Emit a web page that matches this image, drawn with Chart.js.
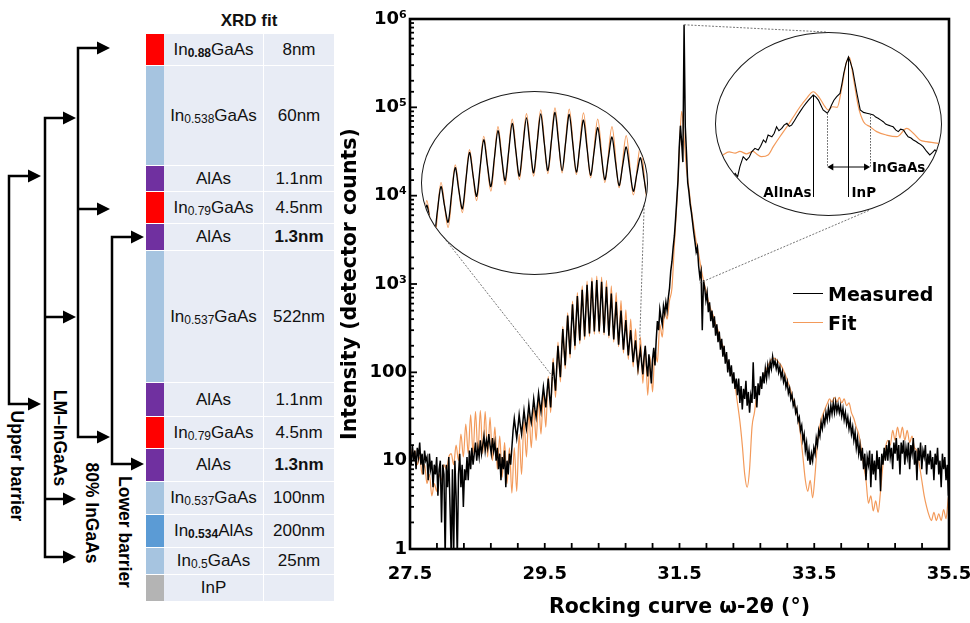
<!DOCTYPE html>
<html>
<head>
<meta charset="utf-8">
<script src="https://cdn.jsdelivr.net/npm/chart.js@4.4.1/dist/chart.umd.min.js"></script>
<style>
  body { margin: 0; background: #fff; }
  #page { position: relative; width: 970px; height: 623px; overflow: hidden; font-family: "Liberation Sans", Arial, sans-serif; color: #111; }
  #brackets { position: absolute; left: 0; top: 0; }
  #xrdTitle { position: absolute; left: 164px; width: 170px; top: 11px; text-align: center; font-weight: bold; font-size: 17px; }
  #stack { position: absolute; left: 146px; top: 34px; width: 188px; }
  .layer { position: absolute; left: 0; width: 188px; display: flex; box-sizing: border-box; border-bottom: 1px solid #fff; }
  .layer div { display: flex; align-items: center; justify-content: center; font-size: 17px; }
  .sw { width: 18px; }
  .mat { width: 100px; background: #e8ecf5; border-right: 1px solid #fff; box-sizing: border-box; }
  .thk { width: 70px; background: #e8ecf5; }
  .layer sub { font-size: 12px; vertical-align: baseline; position: relative; top: 3px; }
  #mainChart { position: absolute; left: 330px; top: 0; }
  .inset { position: absolute; width: 227px; height: 184px; box-sizing: border-box; border: 1.5px solid #1a1a1a; border-radius: 50%; overflow: hidden; background: #fff; }
  .inset canvas { position: absolute; left: -1.5px; top: -1.5px; }
  #fringeInset { left: 421px; top: 91px; }
  #peakInset { left: 715px; top: 32px; }
  #legend { position: absolute; left: 793px; top: 279px; font-family: "DejaVu Sans", sans-serif; font-weight: bold; font-size: 19px; color: #000; }
  .key { display: flex; align-items: center; height: 29px; }
  .key i { display: inline-block; width: 30px; height: 1.5px; margin-right: 5px; }
</style>
</head>
<body>
<div id="page">
  <svg id="brackets" width="150" height="623" viewBox="0 0 150 623">
    <g fill="none" stroke="#000" stroke-width="2.5">
      <path d="M29 176H9V404H29"/>
      <path d="M64 118H45V557H64M45 317H64M45 499H64"/>
      <path d="M98 48H78V437H98M78 209H98"/>
      <path d="M132 237H112V464H132"/>
    </g>
    <g id="heads" fill="#000"></g>
    <g font-family="Liberation Sans, Arial, sans-serif" font-weight="bold" font-size="17.5" text-anchor="middle" dominant-baseline="central" fill="#000">
      <text transform="translate(16.5,466) rotate(90)">Upper barrier</text>
      <text transform="translate(60,438) rotate(90)">LM–InGaAs</text>
      <text transform="translate(91.5,513) rotate(90)">80% InGaAs</text>
      <text transform="translate(125,532) rotate(90)">Lower barrier</text>
    </g>
  </svg>
  <div id="xrdTitle">XRD fit</div>
  <div id="stack"></div>
  <canvas id="mainChart" width="640" height="623"></canvas>
  <div class="inset" id="fringeInset"><canvas id="fringeChart" width="227" height="184"></canvas></div>
  <div class="inset" id="peakInset"><canvas id="peakChart" width="227" height="184"></canvas></div>
  <div id="legend"></div>
</div>
<script>
// layer stack (XRD fit)
var layerNames = ['In<sub><b>0.88</b></sub>GaAs', 'In<sub>0.538</sub>GaAs', 'AlAs', 'In<sub>0.79</sub>GaAs', 'AlAs',
  'In<sub>0.537</sub>GaAs', 'AlAs', 'In<sub>0.79</sub>GaAs', 'AlAs', 'In<sub>0.537</sub>GaAs',
  'In<sub><b>0.534</b></sub>AlAs', 'In<sub>0.5</sub>GaAs', 'InP'];
var layerThickness = ['8nm', '60nm', '1.1nm', '4.5nm', '<b>1.3nm</b>', '522nm', '1.1nm', '4.5nm', '<b>1.3nm</b>',
  '100nm', '200nm', '25nm', ''];

// main scan, counts on a fixed 2theta grid
var scanStart = 27.5;
var measuredStep = 0.018;
var measuredCounts = [
  12,9,15,10,13,8,14,11,16,9,12,7,13,10,11,6,12,8,10,5,9,7,11,4,8,10,2,9,7,
  0.8,9,5,11,3,0.8,8,0.8,10,4,0.8,7,12,5,9,3,8,6,
  11,6,13,8,14,9,12,16,10,14,11,17,12,15,19,13,17,14,20,15,12,18,13,16,10,14,8,12,6,11,8,13,5,10,7,12,9,14,
  22,30,23,18,24,33,25,20,27,37,28,23,31,43,32,27,36,50,38,31,42,58,44,36,50,68,52,
  40,60,85,55,40,75,130,88,62,115,200,128,88,170,310,185,120,235,440,260,160,315,590,335,
  200,390,730,400,230,450,860,460,255,510,980,505,275,550,1070,545,290,575,1110,560,
  290,560,1060,540,280,515,930,485,260,455,780,420,235,390,630,350,205,325,500,295,
  180,270,390,240,155,220,300,195,130,175,230,155,110,145,180,128,95,
  150,200,120,90,160,110,75,140,190,120,230,380,300,520,420,350,560,460,620,500,
  700,900,1400,1800,2600,3500,5500,9000,15000,35000,62000,40000,24000,
  860000,60000,30000,14000,11000,8000,6500,5000,3800,3000,2300,2600,1600,1200,1400,300,1100,900,650,800,
  480,620,380,500,320,430,260,350,220,290,180,240,150,200,125,170,100,140,90,120,75,100,65,85,55,
  85,45,70,38,65,50,80,42,60,35,55,45,130,50,70,40,75,55,90,65,100,75,110,85,120,95,130,110,150,120,
  135,110,128,100,115,88,102,78,90,68,78,58,66,50,56,42,47,35,39,28,31,22,25,17,20,13,16,10,13,9,12,10,14,12,
  18,15,22,19,27,23,31,26,35,29,39,31,42,34,45,35,46,36,43,35,42,32,39,29,35,26,31,23,28,20,24,17,21,14,18,12,15,10,
  14,8,12,6,11,9,13,5,12,7,10,6,13,8,11,4.5,12,9,14,10,
  15,10,17,11,14,8,16,12,18,10,15,7,16,12,17,9,14,11,16,8,15,12,18,9,13,6,14,10,16,8,13,11,15,7,12,9,
  13,8,11,6,12,9,14,7,10,5,12,8,11,6,9,4,8
];
var fitStep = 0.036;
var fitCounts = [
  15,11,13,9,11,7,9,5.5,7,4,5.5,4.5,7,6,9,8,11,
  12,9,15,10,20,11,26,12,33,12,36,12,37,12,36,11,31,10,24,8,19,6.5,16,5.5,14,4.3,14,4.5,20,7,28,11,34,14,40,17,48,20,58,24,
  90,35,145,52,220,78,330,110,470,145,640,180,800,210,950,235,1080,255,1180,270,1230,275,1200,265,1100,245,950,220,800,195,650,165,510,140,400,115,310,95,250,75,200,55,
  150,60,180,130,350,250,500,400,650,900,2800,8000,30000,90000,45000,20000,12000,7000,4500,3000,2200,
  1500,1100,850,650,520,440,350,300,230,200,150,130,105,90,70,45,28,15,7,5,8,24,35,55,65,80,95,110,125,140,
  145,140,130,120,105,90,75,62,48,40,30,20,11,6,4.5,6,3.8,7,16,25,32,
  38,44,50,46,52,46,52,45,50,42,45,35,30,24,20,14,9,6,3.3,4,2.7,3.5,2.6,4.5,9,14,17,15,22,17,
  24,18,24,17,22,16,19,14,13,9,6,4,3,2.4,2.1,2.6,2.1,2.5,2.1,2.8,2.2,3.9,4.5
];

// fine scan around the substrate peak (right inset)
var peakScanX = [31.300,31.310,31.320,31.328,31.333,31.338,31.345,31.352,31.358,31.363,31.370,31.377,31.382,31.388,31.393,
  31.398,31.406,31.411,31.416,31.421,31.427,31.432,31.438,31.443,31.448,31.454,31.459,31.466,31.473,31.478,
  31.484,31.494,31.500,31.505,31.510,31.515,31.524,31.529,31.533,31.538,31.544,31.551,31.555,31.559,31.564,
  31.569,31.573,31.578,31.583,31.587,31.591,31.594,31.601,31.608,31.615,31.622,31.627,31.632,31.638,31.643,
  31.648,31.654,31.659,31.664,31.670,31.675,31.680,31.686,31.691,31.696,31.702,31.707,31.712,31.718,31.723,
  31.728,31.735,31.742,31.748,31.753,31.760,31.770];
var peakScanCounts = [180,150,200,258,200,410,820,640,800,1150,1470,1310,1700,2640,2200,
  3730,3300,4200,6600,5000,5900,7400,8400,6800,7400,10000,13300,19000,26700,33000,
  42600,60400,52000,42600,30000,21300,17000,22000,30200,42000,53700,67600,130000,275000,560000,
  870000,600000,347000,140000,67600,35000,21300,18000,17000,16000,15100,13000,12000,10500,9400,
  8000,7400,7000,6600,5200,4700,5600,5300,4100,3300,3000,2640,2400,2100,1900,
  1650,1200,930,1100,1320,1000,700];
var peakFitX = [31.300,31.315,31.328,31.338,31.352,31.366,31.375,31.384,31.398,31.409,31.423,31.438,31.452,31.466,31.480,
  31.494,31.508,31.519,31.526,31.535,31.545,31.555,31.564,31.571,31.579,31.590,31.601,31.615,31.629,31.650,
  31.672,31.693,31.707,31.721,31.735,31.757,31.775];
var peakFitCounts = [900,1150,1050,1180,1000,1180,950,820,920,1650,3300,6600,13300,26700,48000,
  76000,48000,26700,21300,26700,25700,107000,550000,840000,218000,26700,9400,6600,4700,3700,
  3300,5900,4200,2640,2350,2100,1800];
var peakMarks = [{ name: 'AlInAs', x: 31.494, align: 'right' }, { name: 'InP', x: 31.569, align: 'left' }];
var ingaasSpan = [31.524, 31.615];

// axes
var xTickValues = [27.5,27.9,28.3,28.7,29.1,29.5,29.9,30.3,30.7,31.1,31.5,31.9,32.3,32.7,33.1,33.5,33.9,34.3,34.7,35.1,35.5];
var xTickLabels = [27.5, 29.5, 31.5, 33.5, 35.5];
var yTickText = { 1: '1', 10: '10', 100: '100', 1000: '10³', 10000: '10⁴', 100000: '10⁵', 1000000: '10⁶' };

// ---------- layout / style ----------
var layerColours = ['#ff0000','#a6c4e0','#7030a0','#ff0000','#7030a0','#a6c4e0','#7030a0','#ff0000','#7030a0','#a6c4e0','#5b9bd5','#a6c4e0','#b4b4b4'];
var rowPx = [32,100,26,32,27,132,34,32,33,33,33,27,27];
var fitColour = '#f39a5a';
var mainCanvasLeft = 330;
var chartFont = 'DejaVu Sans';

// zoom windows: point on the curve -> point on the ellipse (page px)
var zoomLinks = [
  { x: 29.62, y: 89, toX: 438, toY: 230 },
  { x: 30.91, y: 233, toX: 645, toY: 180 },
  { x: 31.568, y: 860000, toX: 826, toY: 32 },
  { x: 31.80, y: 1030, toX: 870, toY: 210 }
];

// bracket arrow heads [y, tip x]
var heads = [[176,41],[404,41],[118,76],[317,76],[499,76],[557,76],[48,110],[209,110],[437,110],[237,144],[464,144]];
var headSvg = '';
heads.forEach(function (h) {
  headSvg += '<polygon points="' + (h[1] - 13) + ',' + (h[0] - 6.5) + ' ' + h[1] + ',' + h[0] + ' ' + (h[1] - 13) + ',' + (h[0] + 6.5) + '"/>';
});
document.getElementById('heads').innerHTML = headSvg;

// layer table
var stack = document.getElementById('stack');
var rowTop = 0;
layerNames.forEach(function (name, k) {
  var row = document.createElement('div');
  row.className = 'layer';
  row.style.top = rowTop + 'px';
  row.style.height = rowPx[k] + 'px';
  row.innerHTML = '<div class="sw" style="background:' + layerColours[k] + '"></div>' +
    '<div class="mat">' + name + '</div><div class="thk">' + layerThickness[k] + '</div>';
  stack.appendChild(row);
  rowTop += rowPx[k];
});

// legend
var legendHtml = '';
[['Measured', '#000'], ['Fit', fitColour]].forEach(function (k) {
  legendHtml += '<div class="key"><i style="background:' + k[1] + '"></i>' + k[0] + '</div>';
});
document.getElementById('legend').innerHTML = legendHtml;

function gridSeries(start, step, counts) {
  return counts.map(function (c, i) { return { x: +(start + step * i).toFixed(4), y: c }; });
}
function pairSeries(xs, counts) {
  return xs.map(function (x, i) { return { x: x, y: counts[i] }; });
}
function countAt(xs, counts, x) {
  var k = 0;
  for (var i = 1; i < xs.length; i++) {
    if (Math.abs(xs[i] - x) < Math.abs(xs[k] - x)) k = i;
  }
  return counts[k];
}
function scanDatasets(measured, fit, wM, wF, tM) {
  return [
    { label: 'Measured', data: measured, borderColor: '#000', borderWidth: wM, pointRadius: 0, tension: tM || 0 },
    { label: 'Fit', data: fit, borderColor: fitColour, borderWidth: wF, pointRadius: 0, cubicInterpolationMode: 'monotone' }
  ];
}

Chart.defaults.font.family = chartFont;
Chart.defaults.color = '#000';

var measuredPts = gridSeries(scanStart, measuredStep, measuredCounts);
var fitPts = gridSeries(scanStart, fitStep, fitCounts);

var axisFramePlugin = {
  id: 'axisFrame',
  afterDatasetsDraw: function (chart) {
    var ctx = chart.ctx, xs = chart.scales.x, ys = chart.scales.y;
    ctx.save();
    ctx.strokeStyle = '#666';
    ctx.lineWidth = 0.9;
    ctx.setLineDash([2, 1.5]);
    zoomLinks.forEach(function (l) {
      ctx.beginPath();
      ctx.moveTo(xs.getPixelForValue(l.x), ys.getPixelForValue(l.y));
      ctx.lineTo(l.toX - mainCanvasLeft, l.toY);
      ctx.stroke();
    });
    ctx.restore();
  },
  afterDraw: function (chart) {
    var ctx = chart.ctx, a = chart.chartArea, xs = chart.scales.x, ys = chart.scales.y;
    ctx.save();
    ctx.strokeStyle = '#000';
    ctx.lineWidth = 1.8;
    xs.ticks.forEach(function (t) {
      var px = xs.getPixelForValue(t.value);
      ctx.beginPath(); ctx.moveTo(px, a.bottom); ctx.lineTo(px, a.bottom - 6); ctx.stroke();
    });
    ys.ticks.forEach(function (t) {
      var py = ys.getPixelForValue(t.value);
      var len = yTickText[Math.round(t.value)] ? 7 : 4;
      ctx.beginPath(); ctx.moveTo(a.left, py); ctx.lineTo(a.left + len, py); ctx.stroke();
    });
    ctx.lineWidth = 2.6;
    ctx.strokeRect(a.left, a.top, a.right - a.left, a.bottom - a.top);
    ctx.restore();
  }
};

new Chart(document.getElementById('mainChart'), {
  type: 'line',
  data: { datasets: scanDatasets(measuredPts, fitPts, 1.5, 1.2) },
  options: {
    responsive: false,
    animation: false,
    devicePixelRatio: 1,
    events: [],
    layout: { padding: { top: 19, right: 21, left: 0, bottom: 0 } },
    plugins: { legend: { display: false }, tooltip: { enabled: false } },
    scales: {
      x: {
        type: 'linear', min: 27.5, max: 35.5,
        grid: { display: false, drawTicks: false },
        border: { display: false },
        afterBuildTicks: function (s) { s.ticks = xTickValues.map(function (v) { return { value: v }; }); },
        afterFit: function (s) { s.height = 74; s.paddingLeft = 0; s.paddingRight = 0; },
        ticks: {
          autoSkip: false, maxRotation: 0, padding: 15,
          font: { size: 18, weight: 'bold' },
          callback: function (v) { return xTickLabels.indexOf(v) >= 0 ? v.toFixed(1) : ''; }
        },
        title: { display: true, text: 'Rocking curve ω-2θ (°)', font: { size: 20.5, weight: 'bold' }, padding: { top: 0, bottom: 3 } }
      },
      y: {
        type: 'logarithmic', min: 1, max: 1000000,
        grid: { display: false, drawTicks: false },
        border: { display: false },
        afterFit: function (s) { s.width = 80; s.paddingTop = 0; s.paddingBottom = 0; },
        ticks: {
          autoSkip: false, padding: 3,
          font: { size: 18, weight: 'bold' },
          callback: function (v) { return yTickText[Math.round(v)] || ''; }
        },
        title: { display: true, text: 'Intensity (detector counts)', font: { size: 20.5, weight: 'bold' }, padding: { top: 8, bottom: 0 } }
      }
    }
  },
  plugins: [axisFramePlugin]
});

function insetChart(canvasId, datasets, xMin, xMax, yMin, yMax, extra) {
  return new Chart(document.getElementById(canvasId), {
    type: 'line',
    data: { datasets: datasets },
    options: {
      responsive: false, animation: false, devicePixelRatio: 1, events: [],
      layout: { padding: 0 },
      plugins: { legend: { display: false }, tooltip: { enabled: false } },
      scales: {
        x: { type: 'linear', display: false, min: xMin, max: xMax },
        y: { type: 'logarithmic', display: false, min: yMin, max: yMax }
      }
    },
    plugins: extra || []
  });
}

// left inset: fringes of the 80% InGaAs layer
insetChart('fringeChart', scanDatasets(measuredPts, fitPts, 1.3, 1.2, 0.3), 29.595, 30.742, 26, 1820);

// right inset: substrate peak with labels
var peakLabelPlugin = {
  id: 'peakLabels',
  afterDatasetsDraw: function (chart) {
    var ctx = chart.ctx, xs = chart.scales.x, ys = chart.scales.y;
    var yFloor = 165, yArrow = 135;
    ctx.save();
    ctx.font = 'bold 13.5px "DejaVu Sans"';
    ctx.fillStyle = '#000';
    ctx.strokeStyle = '#000';
    ctx.lineWidth = 1;
    peakMarks.forEach(function (m) {
      var px = Math.round(xs.getPixelForValue(m.x)) + 0.5;
      ctx.beginPath();
      ctx.moveTo(px, ys.getPixelForValue(countAt(peakScanX, peakScanCounts, m.x)));
      ctx.lineTo(px, yFloor);
      ctx.stroke();
      ctx.textAlign = m.align;
      ctx.textBaseline = 'alphabetic';
      ctx.fillText(m.name, m.align === 'right' ? px - 2 : px + 3, yFloor);
    });
    var xa = xs.getPixelForValue(ingaasSpan[0]), xb = xs.getPixelForValue(ingaasSpan[1]);
    ctx.strokeStyle = '#555';
    ctx.setLineDash([1.5, 1.5]);
    ingaasSpan.forEach(function (v) {
      var px = Math.round(xs.getPixelForValue(v)) + 0.5;
      ctx.beginPath();
      ctx.moveTo(px, ys.getPixelForValue(countAt(peakScanX, peakScanCounts, v)));
      ctx.lineTo(px, yArrow);
      ctx.stroke();
    });
    ctx.setLineDash([]);
    ctx.strokeStyle = '#000';
    ctx.beginPath(); ctx.moveTo(xa + 4, yArrow); ctx.lineTo(xb - 4, yArrow); ctx.stroke();
    ctx.beginPath(); ctx.moveTo(xa, yArrow); ctx.lineTo(xa + 6, yArrow - 3.5); ctx.lineTo(xa + 6, yArrow + 3.5); ctx.closePath(); ctx.fill();
    ctx.beginPath(); ctx.moveTo(xb, yArrow); ctx.lineTo(xb - 6, yArrow - 3.5); ctx.lineTo(xb - 6, yArrow + 3.5); ctx.closePath(); ctx.fill();
    ctx.textAlign = 'left';
    ctx.fillText('InGaAs', xb + 2, yArrow + 5);
    ctx.restore();
  }
};
insetChart('peakChart', scanDatasets(pairSeries(peakScanX, peakScanCounts), pairSeries(peakFitX, peakFitCounts), 1.1, 1.2),
  31.285, 31.768, 13.1, 4900000, [peakLabelPlugin]);
</script>
</body>
</html>
